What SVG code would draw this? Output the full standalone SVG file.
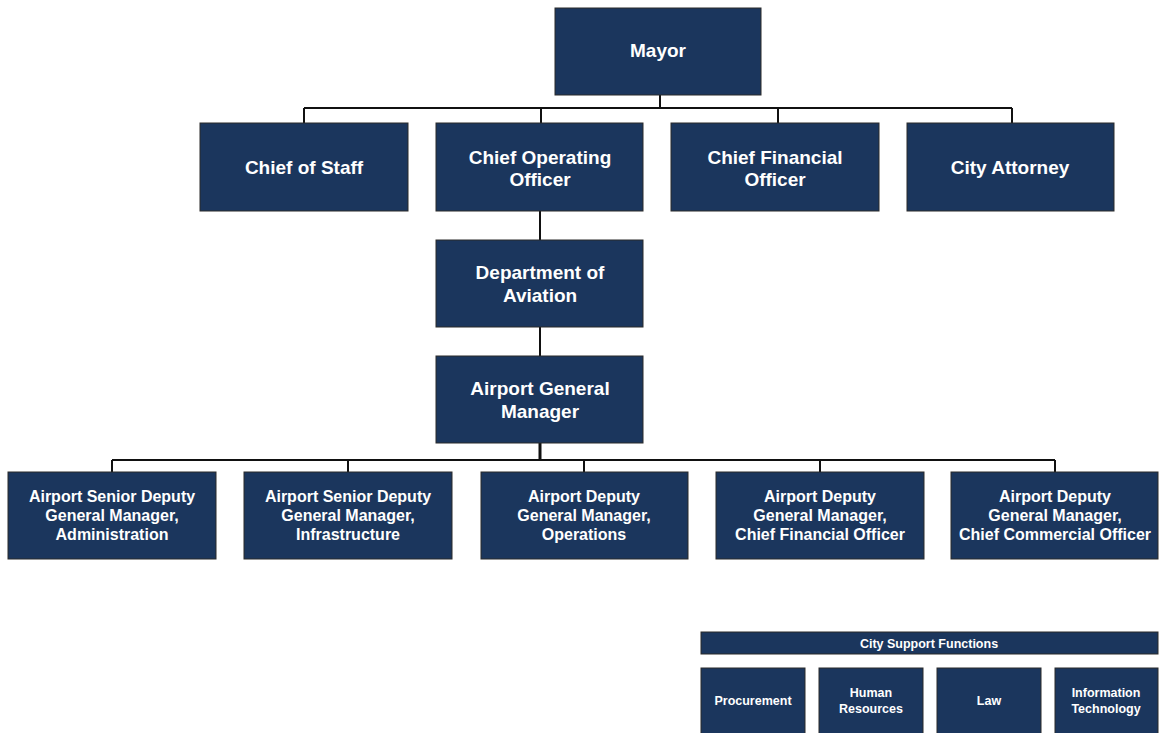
<svg xmlns="http://www.w3.org/2000/svg" width="1161" height="733" viewBox="0 0 1161 733">
<style>
.box{fill:#1b365d;stroke:#2b2b2b;stroke-width:1}
.t{font-family:"Liberation Sans",Arial,sans-serif;font-weight:bold;fill:#ffffff;text-anchor:middle}
.l{font-size:19px}
.m{font-size:16px}
.s{font-size:12.5px}
.c{fill:none;stroke:#111111;stroke-width:2}
</style>
<rect width="1161" height="733" fill="#ffffff"/>
<g id="connectors">
<path class="c" d="M660 95V108M304 108H1012M304 108V123M541 108V123M778 108V123M1012 108V123"/>
<path class="c" d="M540 211V240M540 327V356"/>
<path class="c" d="M540 443V460" style="stroke-width:3"/>
<path class="c" d="M112 460H1055M112 460V472M348 460V472M584 460V472M820 460V472M1055 460V472"/>
</g>
<g id="mayor"><rect class="box" x="555" y="8" width="206" height="87"/><text class="t l" x="658" y="57">Mayor</text></g>
<g id="chief-of-staff"><rect class="box" x="200" y="123" width="208" height="88"/><text class="t l" x="304" y="174">Chief of Staff</text></g>
<g id="coo"><rect class="box" x="436" y="123" width="207" height="88"/><text class="t l" x="540" y="164">Chief Operating</text><text class="t l" x="540" y="186">Officer</text></g>
<g id="cfo"><rect class="box" x="671" y="123" width="208" height="88"/><text class="t l" x="775" y="164">Chief Financial</text><text class="t l" x="775" y="186">Officer</text></g>
<g id="city-attorney"><rect class="box" x="907" y="123" width="207" height="88"/><text class="t l" x="1010" y="174">City Attorney</text></g>
<g id="dept-aviation"><rect class="box" x="436" y="240" width="207" height="87"/><text class="t l" x="540" y="279">Department of</text><text class="t l" x="540" y="302">Aviation</text></g>
<g id="agm"><rect class="box" x="436" y="356" width="207" height="87"/><text class="t l" x="540" y="395">Airport General</text><text class="t l" x="540" y="418">Manager</text></g>
<g id="asdgm-admin"><rect class="box" x="8" y="472" width="208" height="87"/><text class="t m" x="112" y="502">Airport Senior Deputy</text><text class="t m" x="112" y="521">General Manager,</text><text class="t m" x="112" y="540">Administration</text></g>
<g id="asdgm-infra"><rect class="box" x="244" y="472" width="208" height="87"/><text class="t m" x="348" y="502">Airport Senior Deputy</text><text class="t m" x="348" y="521">General Manager,</text><text class="t m" x="348" y="540">Infrastructure</text></g>
<g id="adgm-ops"><rect class="box" x="481" y="472" width="207" height="87"/><text class="t m" x="584" y="502">Airport Deputy</text><text class="t m" x="584" y="521">General Manager,</text><text class="t m" x="584" y="540">Operations</text></g>
<g id="adgm-cfo"><rect class="box" x="716" y="472" width="208" height="87"/><text class="t m" x="820" y="502">Airport Deputy</text><text class="t m" x="820" y="521">General Manager,</text><text class="t m" x="820" y="540">Chief Financial Officer</text></g>
<g id="adgm-cco"><rect class="box" x="951" y="472" width="207" height="87"/><text class="t m" x="1055" y="502">Airport Deputy</text><text class="t m" x="1055" y="521">General Manager,</text><text class="t m" x="1055" y="540">Chief Commercial Officer</text></g>
<g id="city-support"><rect class="box" x="701" y="632" width="457" height="22"/><text class="t s" x="929" y="647.5">City Support Functions</text></g>
<g id="procurement"><rect class="box" x="701" y="668" width="104" height="70"/><text class="t s" x="753" y="704.5">Procurement</text></g>
<g id="human-resources"><rect class="box" x="819" y="668" width="104" height="70"/><text class="t s" x="871" y="697">Human</text><text class="t s" x="871" y="712.5">Resources</text></g>
<g id="law"><rect class="box" x="937" y="668" width="104" height="70"/><text class="t s" x="989" y="704.5">Law</text></g>
<g id="it"><rect class="box" x="1055" y="668" width="103" height="70"/><text class="t s" x="1106" y="697">Information</text><text class="t s" x="1106" y="712.5">Technology</text></g>
</svg>
